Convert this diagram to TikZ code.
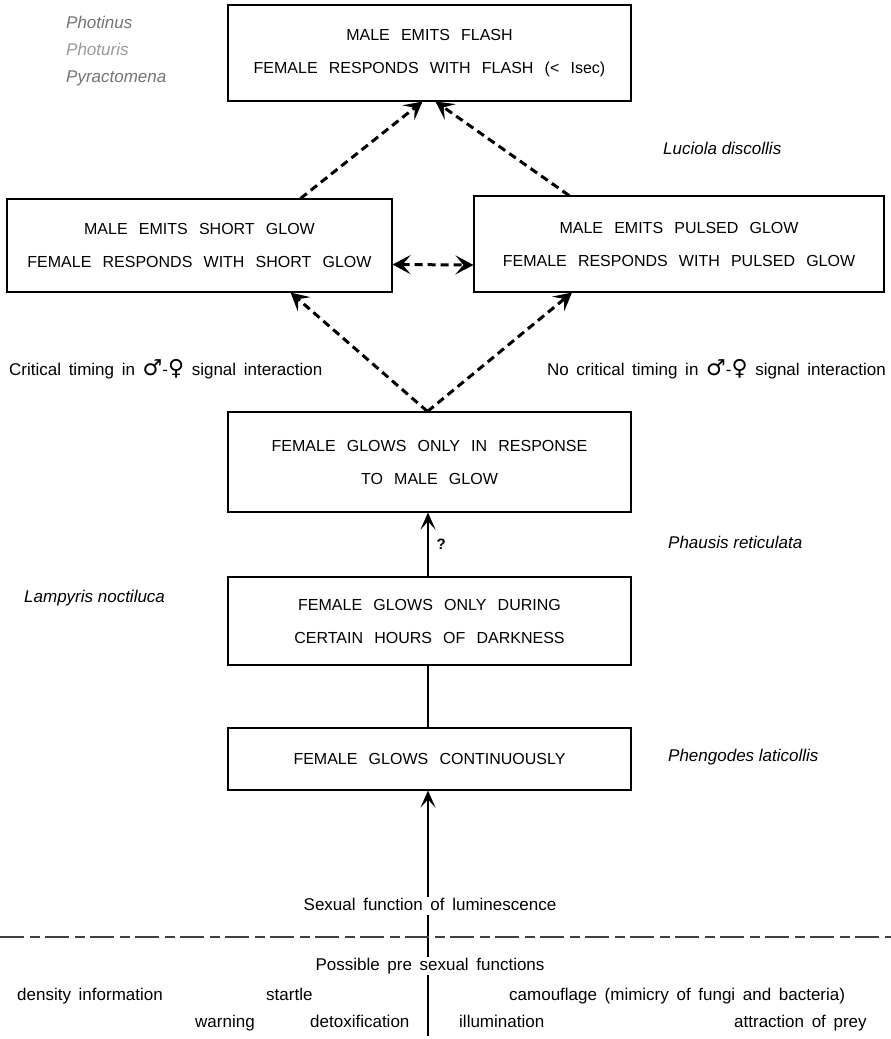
\documentclass[tikz,border=0pt]{standalone}
\usepackage{fontspec}
\setmainfont{Liberation Sans}
\newfontfamily\symf{DejaVu Sans}
\usetikzlibrary{arrows.meta}
\newcommand{\widesp}{\spaceskip=0.7em\relax}
\newcommand{\midsp}{\spaceskip=0.45em\relax}
\newcommand{\male}{{\symf\fontsize{22}{22}\selectfont ♂}}
\newcommand{\female}{{\symf\fontsize{22}{22}\selectfont ♀}}
\tikzset{
  mybarb/.tip={Stealth[length=18pt,width=19pt,inset=8pt]},
  solbarb/.tip={Stealth[length=17pt,width=15pt,inset=8pt]}}
\begin{document}
\begin{tikzpicture}[x=1pt,y=-1pt,
  box/.style={draw, line width=1.1pt, inner sep=0pt, align=center,
    font=\fontsize{16}{33}\selectfont\widesp},
  lbl/.style={font=\fontsize{17}{19}\selectfont\midsp, inner sep=1pt, text height=12pt, text depth=4pt},
  spec/.style={font=\fontsize{17}{19}\selectfont\itshape, anchor=west, inner sep=0pt},
  dasharr/.style={line width=3pt, dash pattern=on 8pt off 5pt, -mybarb},
  solarr/.style={line width=2.4pt, -solbarb}]
\useasboundingbox (0,0) rectangle (891,1039);

% boxes
\node[box, minimum width=403pt, minimum height=96pt] (flash) at (429.5,53) {MALE EMITS FLASH\\FEMALE RESPONDS WITH FLASH (< Isec)};
\node[box, minimum width=385pt, minimum height=93pt] (short) at (199.5,245.5) {MALE EMITS SHORT GLOW\\FEMALE RESPONDS WITH SHORT GLOW};
\node[box, minimum width=410pt, minimum height=96pt] (pulsed) at (679,244) {MALE EMITS PULSED GLOW\\FEMALE RESPONDS WITH PULSED GLOW};
\node[box, minimum width=403pt, minimum height=100pt] (resp) at (429.5,462) {FEMALE GLOWS ONLY IN RESPONSE\\TO MALE GLOW};
\node[box, minimum width=403pt, minimum height=88pt] (hours) at (429.5,621) {FEMALE GLOWS ONLY DURING\\CERTAIN HOURS OF DARKNESS};
\node[box, minimum width=403pt, minimum height=62pt] (cont) at (429.5,759) {FEMALE GLOWS CONTINUOUSLY};

% species labels
\node[spec, text=black!55] (photinus) at (66,22) {Photinus};
\node[spec, text=black!40] (photuris) at (66,49) {Photuris};
\node[spec, text=black!55] (pyracto) at (66,78) {Pyractomena};
\node[spec] (luciola) at (663,148) {Luciola discollis};
\node[spec] (phausis) at (668,542) {Phausis reticulata};
\node[spec] (lampyris) at (24,598) {Lampyris noctiluca};
\node[spec] (phengodes) at (668,757) {Phengodes laticollis};

% timing labels
\node[lbl, anchor=west] (crit) at (8,371) {Critical timing in \male-\female\ signal interaction};
\node[lbl, anchor=east] (nocrit) at (887,371) {No critical timing in \male-\female\ signal interaction};

% connectors
\draw[dasharr] ([xshift=-92pt]short.north east) -- ([xshift=-7pt]flash.south);
\draw[dasharr] ([xshift=-110pt]pulsed.north) -- ([xshift=6pt]flash.south);
\draw[dasharr, mybarb-mybarb] ([yshift=-19pt]short.east) -- ([yshift=-21pt]pulsed.west);
\draw[dasharr] ([xshift=-2pt]resp.north) -- ([xshift=-102pt]short.south east);
\draw[dasharr] ([xshift=-2pt]resp.north) -- ([xshift=-107pt]pulsed.south);
\draw[solarr] ([xshift=-1.5pt]hours.north) -- node[right=4pt, font=\fontsize{15}{15}\selectfont\bfseries] (q) {?} ([xshift=-1.5pt]resp.south);
\draw[line width=2.4pt] ([xshift=-1.5pt]cont.north) -- ([xshift=-1.5pt]hours.south);

% bottom part
\coordinate (base) at (428,1036);
\draw[solarr] (base) -- ([xshift=-1.5pt]cont.south);
\coordinate (dl) at (0,937);
\coordinate (dr) at (891,937);
\draw[line width=1.2pt, black!75, dash pattern=on 24pt off 6pt on 10pt off 5pt] (dl) -- (dr);
\node[lbl, fill=white] (sexual) at (430,906) {Sexual function of luminescence};
\node[lbl, fill=white] (possible) at (430,966) {Possible pre sexual functions};

\node[lbl, anchor=west] (density) at (16,996) {density information};
\node[lbl, anchor=west] (startle) at (265,996) {startle};
\node[lbl, anchor=west] (camo) at (508,996) {camouflage (mimicry of fungi and bacteria)};
\node[lbl, anchor=west] (warning) at (194,1023) {warning};
\node[lbl, anchor=west] (detox) at (309,1023) {detoxification};
\node[lbl, anchor=west] (illum) at (458,1023) {illumination};
\node[lbl, anchor=west] (prey) at (733,1023) {attraction of prey};
\end{tikzpicture}
\end{document}
